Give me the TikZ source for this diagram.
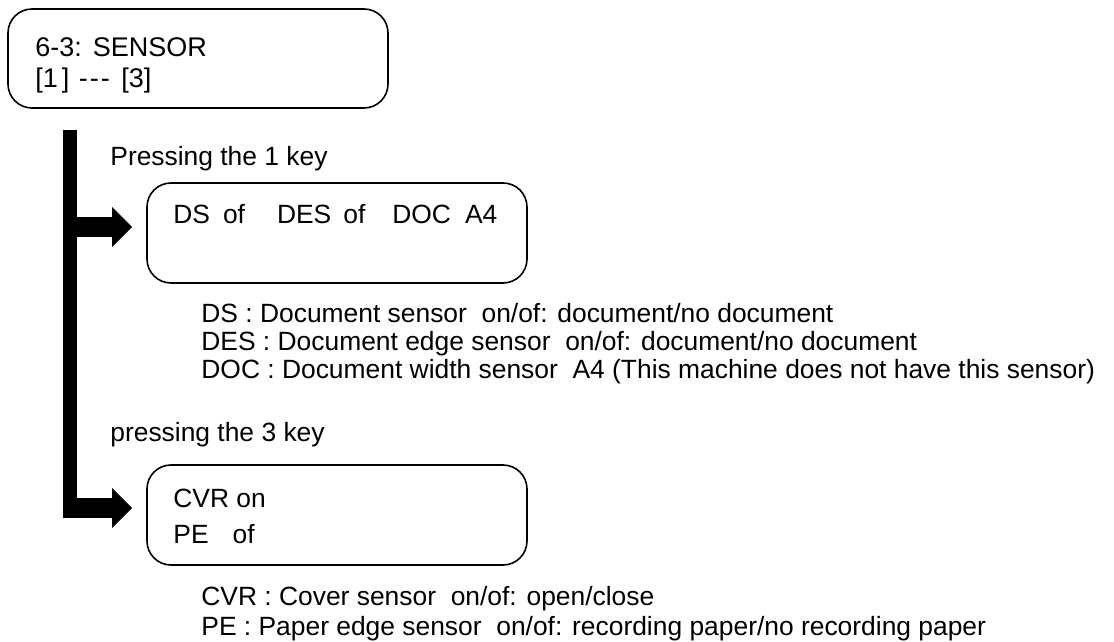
\documentclass[tikz,border=0pt]{standalone}
\usepackage{fontspec}
\setmainfont{Liberation Sans}
\usetikzlibrary{arrows.meta, positioning}
\tikzset{
  panel/.style={draw, thick, rounded corners=12pt, minimum width=190pt, minimum height=50pt, inner sep=0pt},
  txt/.style={anchor=base west, inner sep=0pt, font=\fontsize{13.2}{16}\selectfont},
  spine/.style={line width=7pt},
  flow/.style={line width=10pt, -{Triangle[width=20pt, length=10pt, line width=0pt]}},
}

\begin{document}
\begin{tikzpicture}[x=0.5pt, y=-0.5pt]
  \useasboundingbox (0,0) rectangle (1114,642);

  % boxes
  \node[panel, minimum height=49.5pt] (menu) at (198,58.5) {};
  \node[panel] (keyone) at (337,233) {};
  \node[panel] (keythree) at (337,515) {};

  \node[txt, font=\fontsize{13.5}{16}\selectfont] (title) at (35,57) {6-3:\hspace{5.5pt}SENSOR};
  \node[txt, font=\fontsize{13.5}{16}\selectfont] (range) at (35,88) {[1\kern2pt] \kern1pt-\kern1pt-\kern1pt- \kern2pt[3]};

  \node[txt] (pressone) at (110,165) {Pressing the 1 key};
  \node[txt] (readone) at (173,223) {DS\hspace{6.5pt}of\hspace{16pt}DES\hspace{6pt}of\hspace{13.5pt}DOC\hspace{7pt}A4};
  \node[txt] (dsnote) at (201,322) {DS : Document sensor\ \ on/of: document/no document};
  \node[txt] (desnote) at (201,350) {DES : Document edge sensor\ \ on/of: document/no document};
  \node[txt] (docnote) at (201,378) {DOC : Document width sensor\ \ A4 (This machine does not have this sensor)};

  \node[txt] (pressthree) at (110,441) {pressing the 3 key};
  \node[txt] (cvrread) at (173,507) {CVR on};
  \node[txt] (peread) at (173,543) {PE\hspace{12pt}of};
  \node[txt] (cvrnote) at (201,605) {CVR : Cover sensor\ \ on/of: open/close};
  \node[txt] (penote) at (201,635) {PE : Paper edge sensor\ \ on/of: recording paper/no recording paper};

  % thick bar and arrows
  \coordinate (spinetop) at (70,130);
  \coordinate (spinefoot) at (70,518);
  \coordinate (heel) at (63,508);
  \coordinate (tipone) at ([xshift=-7pt, yshift=3pt]keyone.west);
  \coordinate (tipthree) at ([xshift=-7pt, yshift=3.5pt]keythree.west);
  \draw[spine] (spinetop) -- (spinefoot);
  \draw[flow] (spinetop |- tipone) -- (tipone);
  \draw[flow] (heel) -- (tipthree);
\end{tikzpicture}
\end{document}
